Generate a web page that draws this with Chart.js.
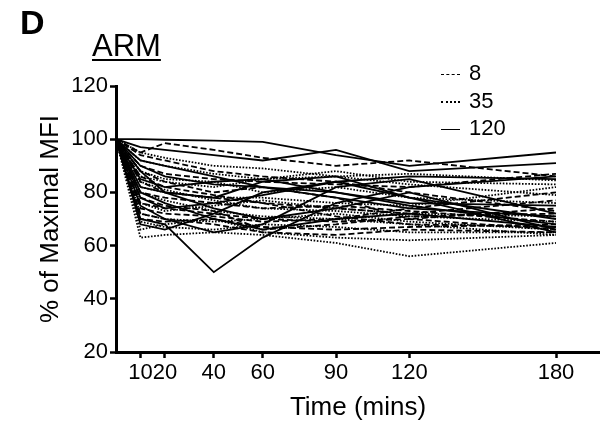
<!DOCTYPE html>
<html>
<head>
<meta charset="utf-8">
<script src="https://cdn.jsdelivr.net/npm/chart.js@4/dist/chart.umd.min.js"></script>
<style>
  body { margin: 0; background: #fff; }
  #wrap { position: relative; width: 600px; height: 426px; font-family: "Liberation Sans", Arial, sans-serif; color: #000; }
  #panel { position: absolute; left: 20px; top: 3px; font-size: 34px; font-weight: bold; }
  #title { position: absolute; left: 92px; top: 28px; font-size: 31px; text-decoration: underline; text-decoration-thickness: 2px; text-underline-offset: 3px; }
  .leg { position: absolute; left: 441px; font-size: 22px; line-height: 26px; }
  .leg span.s { display: inline-block; width: 19px; border-top: 1.5px solid #000; vertical-align: middle; margin-right: 9px; }
  .leg span.dash { border-top-style: dashed; }
  .leg span.dot { border-top-style: dotted; border-top-width: 2px; }
</style>
</head>
<body>
<div id="wrap">
  <canvas id="chart" width="600" height="426"></canvas>
  <div id="panel">D</div>
  <div id="title">ARM</div>
  <div class="leg" style="top:60px"><span class="s dash"></span>8</div>
  <div class="leg" style="top:88px"><span class="s dot"></span>35</div>
  <div class="leg" style="top:115px"><span class="s"></span>120</div>
</div>
<script>
// time points (mins)
const times = [0, 10, 20, 40, 60, 90, 120, 180];
const xTicks = [10, 20, 40, 60, 90, 120, 180];
const yTicks = [20, 40, 60, 80, 100, 120];

// group "8" (dashed)
const group8 = [
  [100, 95, 98.5, 96, 93, 90, 92, 86],
  [100, 90, 87, 85, 84, 83, 82, 87],
  [100, 84, 80, 78, 76, 74, 72, 77],
  [100, 76, 74, 72, 70, 69, 70, 74],
  [100, 70, 69, 70, 67, 66, 67, 68],
  [100, 86, 82, 79, 76, 71, 68, 67],
  [100, 80, 78, 76, 74, 75, 73, 69],
  [100, 72, 70, 68, 65, 64, 66, 65],
  [100, 88, 84, 80, 82, 78, 70, 66],
  [100, 78, 75, 73, 66, 68, 71, 72],
  [100, 94, 92, 88, 86, 84, 80, 73],
  [100, 74, 72, 71, 69, 70, 74, 80]
];

// group "35" (dotted)
const group35 = [
  [100, 63, 64, 65, 64, 61, 56, 61],
  [100, 66, 68, 70, 65, 63, 62, 64],
  [100, 92, 90, 87, 85, 86, 87, 84.5],
  [100, 86, 84, 82, 85, 88, 84, 83],
  [100, 82, 80, 78, 78, 76, 75, 82],
  [100, 76, 73, 75, 77, 74, 72, 71],
  [100, 72, 70, 69, 70, 72, 69, 66],
  [100, 88, 85, 84, 80, 82, 78, 76],
  [100, 80, 77, 73, 71, 70, 68, 64],
  [100, 95, 93, 90, 89, 86, 83, 79],
  [100, 69, 67, 66, 68, 67, 65, 65],
  [100, 84, 81, 77, 74, 73, 71, 69]
];

// group "120" (solid)
const group120 = [
  [100, 100, 99.8, 99.5, 99, 94, 90, 95],
  [100, 97, 96, 94, 92, 96, 88, 91],
  [100, 90, 86, 83, 82, 80, 76, 75],
  [100, 82, 80, 78, 84, 86, 78, 65],
  [100, 70, 68, 50, 63, 76, 82, 86],
  [100, 68, 66, 72, 80, 84, 78, 70],
  [100, 85, 82, 84, 85, 80, 75, 68],
  [100, 75, 70, 65, 68, 82, 85, 72],
  [100, 88, 80, 74, 70, 74, 80, 66],
  [100, 80, 76, 70, 66, 70, 72, 67],
  [100, 92, 90, 86, 82, 78, 74, 71],
  [100, 78, 74, 76, 79, 84, 86, 85]
];

function makeSets(rows, dash, width) {
  return rows.map(r => ({
    data: r.map((v, i) => ({ x: times[i], y: v })),
    borderColor: '#000',
    borderWidth: width,
    borderDash: dash,
    pointRadius: 0,
    fill: false,
    tension: 0
  }));
}

const datasets = [].concat(
  makeSets(group8, [6, 3], 1.8),
  makeSets(group35, [1.6, 1.6], 1.8),
  makeSets(group120, [], 1.8)
);

const font = { family: '"Liberation Sans", Arial, sans-serif', size: 22 };

new Chart(document.getElementById('chart').getContext('2d'), {
  type: 'line',
  data: { datasets: datasets },
  options: {
    responsive: false,
    animation: false,
    layout: { padding: { top: 86, right: 0, left: 0, bottom: 0 } },
    plugins: { legend: { display: false }, tooltip: { enabled: false } },
    scales: {
      x: {
        type: 'linear',
        min: 0,
        max: 198,
        afterBuildTicks: s => { s.ticks = xTicks.map(v => ({ value: v })); },
        afterFit: s => { s.height = 74; },
        ticks: { font: font, color: '#000', padding: 2, autoSkip: false, maxRotation: 0, minRotation: 0 },
        grid: { drawOnChartArea: false, tickLength: 6, tickWidth: 2.5, color: '#000' },
        border: { width: 3, color: '#000' },
        title: { display: true, text: 'Time (mins)', color: '#000', font: { family: font.family, size: 26 }, padding: { top: 0, bottom: 3 } }
      },
      y: {
        min: 20,
        max: 120,
        afterBuildTicks: s => { s.ticks = yTicks.map(v => ({ value: v })); },
        afterFit: s => { s.width = 116; },
        ticks: { font: font, color: '#000', padding: 2 },
        grid: { drawOnChartArea: false, tickLength: 6, tickWidth: 2.5, color: '#000' },
        border: { width: 3, color: '#000' },
        title: { display: true, text: '% of Maximal MFI', color: '#000', font: { family: font.family, size: 26 }, padding: { top: 35, bottom: 0 } }
      }
    }
  }
});
</script>
</body>
</html>
